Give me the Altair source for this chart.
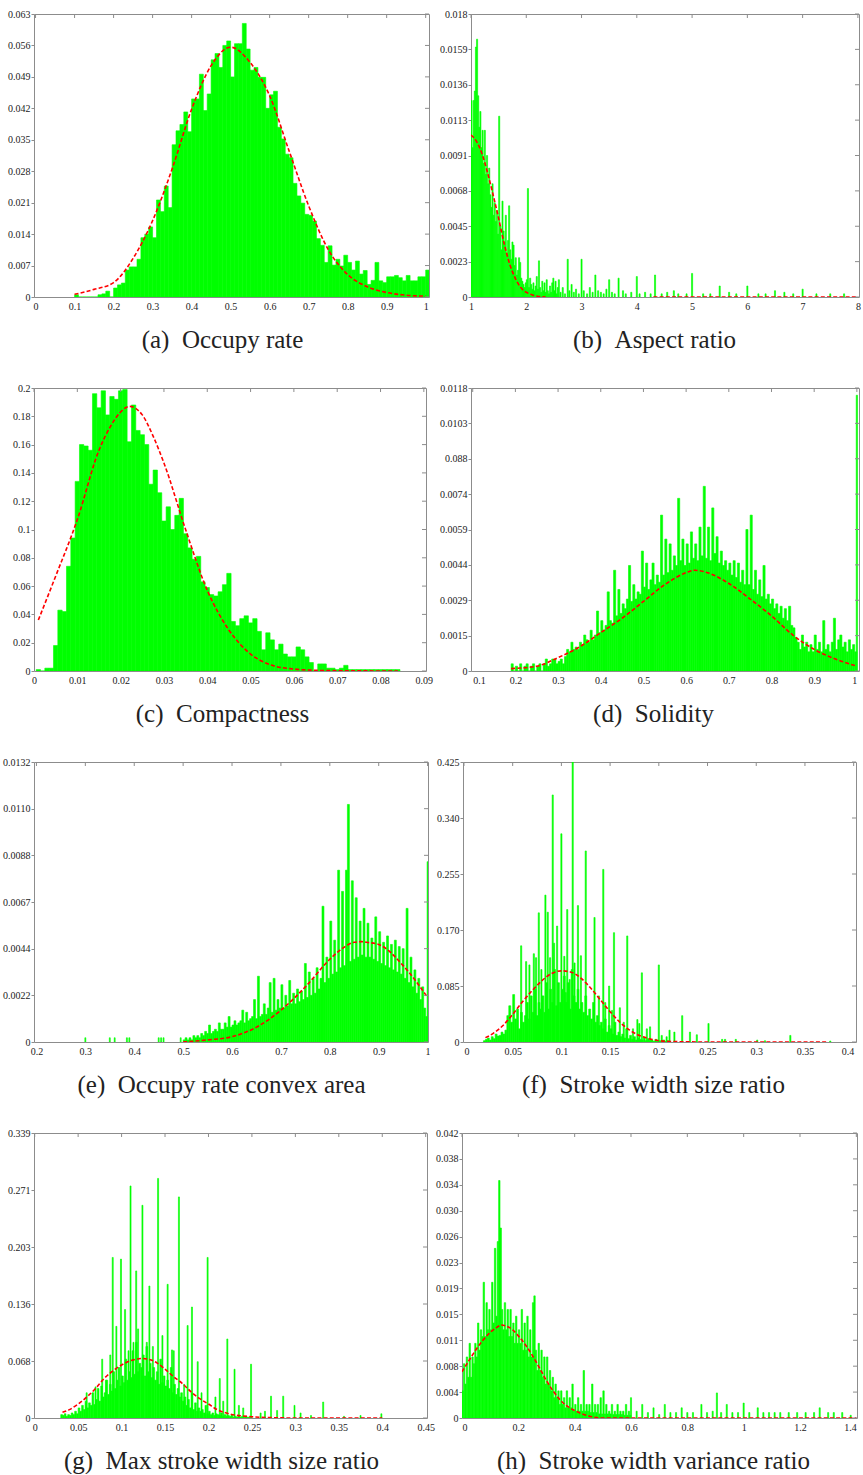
import json

import altair as alt
import pandas as pd

GREEN = "#00ff00"
RED = "#ff0000"
FRAME = "#8c8c8c"
INK = "#222222"
SERIF = "'Liberation Serif', 'Times New Roman', 'DejaVu Serif', serif"

# ---------------------------------------------------------------- (a) Occupy rate
a_bin_start, a_bin_width = 0.10, 0.01
a_heights = [
    0.0005, 0, 0, 0, 0, 0, 0.0005, 0.0007, 0.0013, 0,
    0.0020, 0.0027, 0.0031, 0.0060, 0.0067, 0.0067, 0.0084, 0.0132, 0.0140, 0.0156,
    0.0132, 0.0216, 0.0190, 0.0247, 0.0199, 0.0339, 0.0370, 0.0384, 0.0412, 0.0368,
    0.0441, 0.0441, 0.0496, 0.0415, 0.0452, 0.0528, 0.0542, 0.0511, 0.0560, 0.0570,
    0.0490, 0.0564, 0.0564, 0.0609, 0.0552, 0.0505, 0.0511, 0.0489, 0.0489, 0.0420,
    0.0450, 0.0458, 0.0378, 0.0352, 0.0318, 0.0310, 0.0253, 0.0225, 0.0209, 0.0184,
    0.0182, 0.0169, 0.0130, 0.0115, 0.0077, 0.0114, 0.0071, 0.0084, 0.0069, 0.0093,
    0.0077, 0.0060, 0.0080, 0.0051, 0.0059, 0.0028, 0.0037, 0.0077, 0.0036, 0.0032,
    0.0045, 0.0045, 0.0048, 0.0043, 0.0036, 0.0048, 0.0036, 0.0036, 0.0045, 0.0045,
    0.0060,
]
a_curve_x = [0.10, 0.15, 0.20, 0.25, 0.30, 0.35, 0.40, 0.45, 0.50, 0.55,
             0.60, 0.65, 0.70, 0.75, 0.80, 0.85, 0.90, 0.95, 1.00]
a_curve_y = [0.0006, 0.0017, 0.0032, 0.0086, 0.0170, 0.0285, 0.0418, 0.0515, 0.0556, 0.0522,
             0.0448, 0.0325, 0.0203, 0.0106, 0.0050, 0.0023, 0.0010, 0.0004, 0.0002]
a_x_ticks = [0, 0.1, 0.2, 0.3, 0.4, 0.5, 0.6, 0.7, 0.8, 0.9, 1]
a_y_labels = ["0", "0.007", "0.014", "0.021", "0.028", "0.035", "0.042", "0.049", "0.056", "0.063"]

# ---------------------------------------------------------------- (b) Aspect ratio
b_bin_start, b_bin_width = 1.0, 0.02
b_heights = [
    0.0125, 0.0095, 0.0125, 0.0131, 0.0159, 0.0164, 0.0128, 0.0108, 0.0118, 0.0095,
    0.0106, 0.0085, 0.0106, 0.0078, 0.0090, 0.0072, 0.0082, 0.0065, 0.0057, 0.0072,
    0.0052, 0.0060, 0.0048, 0.0055, 0.0040, 0.0115, 0.0045, 0.0030, 0.0061, 0.0042,
    0.0035, 0.0052, 0.0028, 0.0036, 0.0058, 0.0030, 0.0024, 0.0035, 0.0033, 0.0020,
    0.0025, 0.0014, 0.0017, 0.0025, 0.0022, 0.0012, 0.0010, 0.0008, 0.0006, 0.0009,
    0.0011, 0.0069, 0.0006, 0.0012, 0.0008, 0.0005, 0.0009, 0.0004, 0.0007, 0.0013,
    0.0005, 0.0023, 0.0006, 0.0003, 0.0010, 0.0004, 0.0009, 0.0003, 0.0011, 0.0004,
    0.0002, 0.0007, 0.0003, 0.0009, 0.0012, 0.0004, 0.0010, 0.0002, 0.0006, 0.0011,
]
b_spike_x = [2.62, 2.66, 2.70, 2.75, 2.78, 2.82, 2.86, 2.90, 2.95, 3.00, 3.04, 3.10, 3.15,
             3.20, 3.25, 3.30, 3.35, 3.40, 3.45, 3.50, 3.55, 3.60, 3.67, 3.75, 3.80, 3.90,
             4.00, 4.05, 4.15, 4.25, 4.33, 4.45, 4.55, 4.67, 4.75, 4.90, 5.00, 5.20, 5.33,
             5.50, 5.67, 5.80, 6.00, 6.20, 6.33, 6.50, 6.67, 6.83, 7.00, 7.25, 7.50, 7.75]
b_spike_h = [0.0003, 0.0006, 0.0002, 0.0024, 0.0004, 0.0008, 0.0003, 0.0005, 0.0002, 0.0024,
             0.0004, 0.0002, 0.0006, 0.0003, 0.0014, 0.0004, 0.0003, 0.0002, 0.0005, 0.0011,
             0.0003, 0.0002, 0.0012, 0.0004, 0.0002, 0.0003, 0.0013, 0.0002, 0.0003, 0.0002,
             0.0014, 0.0002, 0.0003, 0.0004, 0.0002, 0.0002, 0.0015, 0.0002, 0.0002, 0.0007,
             0.0003, 0.0002, 0.0007, 0.0002, 0.0002, 0.0004, 0.0003, 0.0002, 0.0005, 0.0002,
             0.0002, 0.0002]
b_curve_x = [1.0, 1.1, 1.2, 1.3, 1.4, 1.5, 1.6, 1.7, 1.8, 1.9, 2.0, 2.1, 2.2, 2.35, 4.3, 8.0]
b_curve_y = [0.0103, 0.0099, 0.0091, 0.0079, 0.0065, 0.0050, 0.0034, 0.0021, 0.0012, 0.0006,
             0.0003, 0.00015, 0.00005, 0.0, 0.0, 0.0]
b_curve_seg = [0] * 14 + [1, 1]
b_x_ticks = [1, 2, 3, 4, 5, 6, 7, 8]
b_y_labels = ["0", "0.0023", "0.0045", "0.0068", "0.0091", "0.0113", "0.0136", "0.0159", "0.018"]

# ---------------------------------------------------------------- (c) Compactness
c_bin_start, c_bin_width = 0.0005, 0.001
c_heights = [
    0.001, 0, 0.002, 0.002, 0.018, 0.043, 0.042, 0.074, 0.094, 0.134,
    0.160, 0.159, 0.156, 0.196, 0.186, 0.198, 0.181, 0.194, 0.192, 0.198,
    0.199, 0.162, 0.188, 0.170, 0.167, 0.160, 0.132, 0.142, 0.126, 0.106,
    0.116, 0.100, 0.110, 0.122, 0.097, 0.087, 0.079, 0.081, 0.063, 0.059,
    0.054, 0.053, 0.056, 0.061, 0.069, 0.035, 0.032, 0.037, 0.039, 0.034,
    0.037, 0.028, 0.015, 0.027, 0.022, 0.015, 0.019, 0.012, 0.010, 0.010,
    0.017, 0.015, 0.010, 0.006, 0, 0.005, 0.005, 0.002, 0.002, 0.001,
    0.002, 0.004, 0.001, 0.001, 0.001, 0.001, 0.001, 0.001, 0.001, 0.001,
    0.001, 0.001, 0.001, 0.001,
]
c_curve_x = [0.001, 0.005, 0.010, 0.015, 0.0175, 0.020, 0.022, 0.025, 0.0275, 0.030, 0.035,
             0.040, 0.045, 0.050, 0.055, 0.060, 0.065, 0.070, 0.084]
c_curve_y = [0.036, 0.067, 0.107, 0.156, 0.172, 0.183, 0.187, 0.181, 0.166, 0.147, 0.100,
             0.057, 0.029, 0.012, 0.004, 0.0014, 0.0005, 0.0002, 0.0]
c_x_ticks = [0, 0.01, 0.02, 0.03, 0.04, 0.05, 0.06, 0.07, 0.08, 0.09]
c_y_labels = ["0", "0.02", "0.04", "0.06", "0.08", "0.1", "0.12", "0.14", "0.16", "0.18", "0.2"]

# ---------------------------------------------------------------- (d) Solidity
d_bin_start, d_bin_width = 0.19, 0.005
d_heights = [
    0.0003, 0, 0.0002, 0, 0.0003, 0, 0.0002, 0.0003, 0, 0.0002,
    0.0003, 0, 0.0002, 0.0003, 0, 0.0003, 0.0005, 0.0002, 0.0003, 0.0005,
    0.0005, 0.0003, 0.0004, 0.0005, 0.0003, 0.0006, 0.0009, 0.0008, 0.0012, 0.0009,
    0.0010, 0.0009, 0.0012, 0.0011, 0.0015, 0.0013, 0.0012, 0.0017, 0.0013, 0.0015,
    0.0025, 0.0016, 0.0021, 0.0017, 0.0019, 0.0033, 0.0021, 0.0020, 0.0042, 0.0023,
    0.0034, 0.0024, 0.0028, 0.0026, 0.0030, 0.0044, 0.0029, 0.0036, 0.0030, 0.0033,
    0.0032, 0.0050, 0.0035, 0.0045, 0.0034, 0.0038, 0.0045, 0.0036, 0.0040, 0.0037,
    0.0065, 0.0040, 0.0055, 0.0041, 0.0053, 0.0042, 0.0048, 0.0044, 0.0072, 0.0046,
    0.0055, 0.0044, 0.0053, 0.0045, 0.0058, 0.0047, 0.0053, 0.0046, 0.0060, 0.0048,
    0.0077, 0.0047, 0.0060, 0.0046, 0.0068, 0.0049, 0.0056, 0.0045, 0.0050, 0.0044,
    0.0046, 0.0042, 0.0045, 0.0040, 0.0046, 0.0039, 0.0045, 0.0037, 0.0042, 0.0036,
    0.0059, 0.0036, 0.0065, 0.0034, 0.0042, 0.0032, 0.0038, 0.0031, 0.0044, 0.0030,
    0.0032, 0.0028, 0.0030, 0.0026, 0.0028, 0.0024, 0.0027, 0.0022, 0.0026, 0.0021,
    0.0027, 0.0019, 0.0018, 0.0014, 0.0012, 0.0009, 0.0015, 0.0010, 0.0012, 0.0008,
    0.0011, 0.0008, 0.0015, 0.0009, 0.0012, 0.0008, 0.0021, 0.0009, 0.0011, 0.0008,
    0.0012, 0.0022, 0.0009, 0.0013, 0.0015, 0.0010, 0.0012, 0.0008, 0.0013, 0.0009,
    0.0011, 0.0008,
]
d_spike_x = [1.0]
d_spike_h = [0.0115]
d_curve_x = [0.19, 0.25, 0.30, 0.35, 0.40, 0.45, 0.50, 0.55, 0.60, 0.62, 0.65, 0.70,
             0.75, 0.80, 0.85, 0.90, 0.95, 1.00]
d_curve_y = [0.0001, 0.0002, 0.00056, 0.0010, 0.0016, 0.0022, 0.0029, 0.0036, 0.0041, 0.0042,
             0.0041, 0.00365, 0.0030, 0.0023, 0.0015, 0.0009, 0.0005, 0.0002]
d_x_ticks = [0.1, 0.2, 0.3, 0.4, 0.5, 0.6, 0.7, 0.8, 0.9, 1]
d_y_labels = ["0", "0.0015", "0.0029", "0.0044", "0.0059", "0.0074", "0.088", "0.0103", "0.0118"]

# ---------------------------------------------------------------- (e) Occupy rate convex area
e_bin_start, e_bin_width = 0.50, 0.004
e_heights = [
    0.0001, 0.0002, 0.0001, 0.0002, 0.0001, 0.0003, 0.0002, 0.0003, 0.0002, 0.0004,
    0.0003, 0.0005, 0.0004, 0.0008, 0.0004, 0.0005, 0.0006, 0.0005, 0.0009, 0.0006,
    0.0006, 0.0009, 0.0007, 0.0012, 0.0007, 0.0008, 0.0010, 0.0008, 0.0009, 0.0010,
    0.0015, 0.0009, 0.0014, 0.0010, 0.0011, 0.0012, 0.0020, 0.0011, 0.0031, 0.0012,
    0.0013, 0.0018, 0.0013, 0.0016, 0.0028, 0.0014, 0.0030, 0.0015, 0.0020, 0.0016,
    0.0027, 0.0016, 0.0022, 0.0017, 0.0029, 0.0018, 0.0023, 0.0018, 0.0025, 0.0019,
    0.0024, 0.0020, 0.0037, 0.0021, 0.0033, 0.0022, 0.0030, 0.0023, 0.0035, 0.0025,
    0.0030, 0.0064, 0.0028, 0.0040, 0.0030, 0.0057, 0.0032, 0.0048, 0.0033, 0.0081,
    0.0035, 0.0071, 0.0036, 0.0081, 0.0112, 0.0038, 0.0076, 0.0039, 0.0068, 0.0040,
    0.0057, 0.0041, 0.0063, 0.0040, 0.0056, 0.0040, 0.0049, 0.0039, 0.0059, 0.0038,
    0.0052, 0.0037, 0.0047, 0.0036, 0.0050, 0.0035, 0.0046, 0.0034, 0.0048, 0.0033,
    0.0045, 0.0032, 0.0044, 0.0030, 0.0063, 0.0028, 0.0040, 0.0026, 0.0034, 0.0023,
    0.0030, 0.0020, 0.0026, 0.0016, 0.0012,
]
e_spike_x = [0.300, 0.350, 0.360, 0.385, 0.390, 0.450, 0.455, 0.460, 0.495, 1.0]
e_spike_h = [0.0002, 0.0002, 0.0002, 0.0002, 0.0002, 0.0002, 0.0002, 0.0002, 0.0002, 0.0085]
e_curve_x = [0.50, 0.55, 0.60, 0.65, 0.70, 0.75, 0.80, 0.825, 0.85, 0.865, 0.875, 0.90, 0.95, 1.00]
e_curve_y = [0.0, 0.0001, 0.00025, 0.0007, 0.0015, 0.0026, 0.0039, 0.0044, 0.0047, 0.00473,
             0.0047, 0.0046, 0.0036, 0.0021]
e_x_ticks = [0.2, 0.3, 0.4, 0.5, 0.6, 0.7, 0.8, 0.9, 1]
e_y_labels = ["0", "0.0022", "0.0044", "0.0067", "0.0088", "0.0110", "0.0132"]

# ---------------------------------------------------------------- (f) Stroke width size ratio
f_bin_start, f_bin_width = 0.020, 0.002
f_heights = [
    0.002, 0.004, 0.006, 0.003, 0.008, 0.005, 0.012, 0.009, 0.010, 0.015,
    0.012, 0.018, 0.040, 0.055, 0.030, 0.072, 0.035, 0.050, 0.020, 0.045,
    0.030, 0.040, 0.060, 0.035, 0.070, 0.045, 0.080, 0.040, 0.060, 0.050,
    0.070, 0.045, 0.090, 0.050, 0.080, 0.060, 0.110, 0.055, 0.090, 0.060,
    0.080, 0.100, 0.060, 0.090, 0.050, 0.110, 0.070, 0.060, 0.080, 0.050,
    0.060, 0.045, 0.070, 0.040, 0.050, 0.035, 0.060, 0.030, 0.040, 0.025,
    0.030, 0.020, 0.035, 0.015, 0.025, 0.020, 0.012, 0.030, 0.010, 0.015,
    0.008, 0.012, 0.006, 0.020, 0.005, 0.010, 0.004, 0.008, 0.003, 0.006,
    0.004, 0.003, 0.007, 0.002, 0.005, 0.002, 0.003, 0.001, 0.004, 0.001,
    0.002, 0.001, 0.003, 0.001, 0.002,
]
f_spike_x = [0.0587, 0.0638, 0.0672, 0.0717, 0.0740, 0.0768, 0.0795, 0.0836, 0.0860, 0.0884,
             0.0911, 0.0925, 0.0956, 0.1000, 0.1030, 0.1045, 0.1060, 0.1085, 0.1116, 0.1135,
             0.1170, 0.1200, 0.1250, 0.1340, 0.1385, 0.1430, 0.1450, 0.1490, 0.1520, 0.1540,
             0.1600, 0.1640, 0.1676, 0.1735, 0.1780, 0.1800, 0.1826, 0.1877, 0.1910, 0.2000,
             0.2030, 0.2080, 0.2110, 0.2160, 0.2240, 0.2320, 0.2390, 0.2510, 0.2650, 0.2680,
             0.2790, 0.3010, 0.3090, 0.3350, 0.3760]
f_spike_h = [0.146, 0.122, 0.117, 0.134, 0.128, 0.196, 0.110, 0.223, 0.197, 0.128,
             0.375, 0.150, 0.176, 0.316, 0.130, 0.075, 0.201, 0.095, 0.425, 0.120,
             0.207, 0.131, 0.290, 0.189, 0.070, 0.262, 0.060, 0.085, 0.048, 0.166,
             0.052, 0.030, 0.161, 0.020, 0.034, 0.028, 0.105, 0.020, 0.023, 0.117,
             0.010, 0.008, 0.018, 0.015, 0.040, 0.015, 0.011, 0.028, 0.004, 0.004,
             0.004, 0.003, 0.002, 0.010, 0.0015]
f_curve_x = [0.022, 0.03, 0.04, 0.05, 0.06, 0.07, 0.08, 0.09, 0.10, 0.11, 0.12, 0.13, 0.14,
             0.15, 0.16, 0.17, 0.18, 0.19, 0.20, 0.22, 0.25, 0.372]
f_curve_y = [0.0066, 0.013, 0.025, 0.042, 0.061, 0.078, 0.093, 0.104, 0.108, 0.106, 0.097,
             0.082, 0.064, 0.046, 0.030, 0.018, 0.010, 0.005, 0.002, 0.0005, 0.0, 0.0]
f_x_ticks = [0, 0.05, 0.1, 0.15, 0.2, 0.25, 0.3, 0.35, 0.4]
f_y_labels = ["0", "0.085", "0.170", "0.255", "0.340", "0.425"]

# ---------------------------------------------------------------- (g) Max stroke width size ratio
g_bin_start, g_bin_width = 0.030, 0.002
g_heights = [
    0.004, 0.003, 0.005, 0.002, 0.004, 0.003, 0.006, 0.004, 0.008, 0.005,
    0.012, 0.008, 0.015, 0.010, 0.020, 0.012, 0.018, 0.015, 0.030, 0.016,
    0.022, 0.035, 0.020, 0.038, 0.025, 0.030, 0.045, 0.028, 0.040, 0.032,
    0.055, 0.035, 0.045, 0.060, 0.038, 0.050, 0.042, 0.070, 0.045, 0.055,
    0.048, 0.080, 0.052, 0.090, 0.055, 0.065, 0.060, 0.075, 0.050, 0.085,
    0.055, 0.065, 0.048, 0.060, 0.045, 0.055, 0.040, 0.070, 0.042, 0.050,
    0.038, 0.045, 0.035, 0.060, 0.030, 0.040, 0.028, 0.035, 0.025, 0.030,
    0.020, 0.025, 0.015, 0.022, 0.012, 0.030, 0.010, 0.018, 0.008, 0.012,
    0.008, 0.010, 0.006, 0.015, 0.005, 0.008, 0.004, 0.006, 0.003, 0.005,
    0.004, 0.003, 0.006, 0.002, 0.004, 0.002, 0.003, 0.002, 0.004, 0.001,
    0.002, 0.001, 0.003, 0.001, 0.002, 0.001, 0.002, 0.001, 0.001, 0.001,
]
g_spike_x = [0.0598, 0.0700, 0.0777, 0.0820, 0.0870, 0.0898, 0.0940, 0.0993, 0.1040, 0.1080,
             0.1103, 0.1137, 0.1168, 0.1190, 0.1240, 0.1290, 0.1320, 0.1360, 0.1420, 0.1470,
             0.1530, 0.1580, 0.1600, 0.1660, 0.1720, 0.1760, 0.1810, 0.1876, 0.1920, 0.1990,
             0.2080, 0.2130, 0.2170, 0.2217, 0.2300, 0.2350, 0.2400, 0.2490, 0.2600, 0.2650,
             0.2720, 0.2790, 0.2860, 0.2990, 0.3060, 0.3180, 0.3320, 0.3560, 0.3750, 0.3990]
g_spike_h = [0.030, 0.037, 0.070, 0.045, 0.075, 0.191, 0.109, 0.189, 0.129, 0.080,
             0.276, 0.090, 0.175, 0.106, 0.253, 0.090, 0.157, 0.085, 0.285, 0.098,
             0.159, 0.081, 0.080, 0.263, 0.040, 0.110, 0.132, 0.067, 0.030, 0.191,
             0.025, 0.047, 0.020, 0.094, 0.058, 0.015, 0.012, 0.064, 0.006, 0.008,
             0.026, 0.009, 0.026, 0.015, 0.006, 0.003, 0.019, 0.002, 0.003, 0.005]
g_curve_x = [0.032, 0.04, 0.05, 0.06, 0.07, 0.08, 0.09, 0.10, 0.11, 0.12, 0.125, 0.13, 0.14,
             0.15, 0.16, 0.17, 0.18, 0.19, 0.20, 0.21, 0.225, 0.25, 0.27, 0.30, 0.40]
g_curve_y = [0.0067, 0.010, 0.0166, 0.025, 0.035, 0.047, 0.056, 0.063, 0.068, 0.0705, 0.0708,
             0.070, 0.066, 0.058, 0.049, 0.041, 0.031, 0.023, 0.0166, 0.010, 0.0047, 0.0015,
             0.0005, 0.0, 0.0]
g_x_ticks = [0, 0.05, 0.1, 0.15, 0.2, 0.25, 0.3, 0.35, 0.4, 0.45]
g_y_labels = ["0", "0.068", "0.136", "0.203", "0.271", "0.339"]

# ---------------------------------------------------------------- (h) Stroke width variance ratio
h_bin_start, h_bin_width = 0.0, 0.005
h_heights = [
    0.004, 0.008, 0.005, 0.009, 0.006, 0.011, 0.006, 0.009, 0.008, 0.011,
    0.009, 0.014, 0.010, 0.013, 0.012, 0.020, 0.012, 0.017, 0.013, 0.016,
    0.013, 0.020, 0.014, 0.025, 0.015, 0.026, 0.035, 0.028, 0.016, 0.013,
    0.017, 0.013, 0.016, 0.012, 0.016, 0.012, 0.014, 0.011, 0.015, 0.011,
    0.013, 0.011, 0.016, 0.010, 0.014, 0.010, 0.015, 0.009, 0.013, 0.009,
    0.017, 0.018, 0.010, 0.007, 0.011, 0.007, 0.010, 0.006, 0.009, 0.005,
    0.009, 0.005, 0.007, 0.004, 0.006, 0.003, 0.005, 0.003, 0.004, 0.002,
    0.004, 0.002, 0.003, 0.0015, 0.004, 0.0015, 0.003, 0.0015, 0.005, 0.001,
    0.002, 0.001, 0.003, 0.001, 0.002, 0.001, 0.007, 0.001, 0.002, 0.001,
    0.002, 0.0008, 0.005, 0.0008, 0.002, 0.0008, 0.002, 0.0006, 0.003, 0.0006,
    0.004, 0.0006, 0.002, 0.0006, 0.001, 0.0006, 0.002, 0.0005, 0.001, 0.0005,
    0.002, 0.0005, 0.001, 0.0005, 0.001, 0.0004, 0.002, 0.0004, 0.001, 0.0004,
]
h_spike_x = [0.60, 0.62, 0.64, 0.66, 0.68, 0.70, 0.72, 0.74, 0.76, 0.78, 0.80, 0.82, 0.85,
             0.87, 0.89, 0.905, 0.92, 0.94, 0.96, 0.98, 1.00, 1.02, 1.05, 1.07, 1.09, 1.11,
             1.13, 1.16, 1.19, 1.22, 1.25, 1.27, 1.30, 1.32, 1.35, 1.38]
h_spike_h = [0.003, 0.001, 0.002, 0.0008, 0.0015, 0.0005, 0.002, 0.0008, 0.0008, 0.0015,
             0.0008, 0.0008, 0.002, 0.0008, 0.0010, 0.0037, 0.0008, 0.002, 0.0008, 0.0008,
             0.0022, 0.0008, 0.0015, 0.0008, 0.0008, 0.0008, 0.0008, 0.0008, 0.0008, 0.0008,
             0.0008, 0.0015, 0.0008, 0.0008, 0.0008, 0.0004]
h_curve_x = [0.0, 0.025, 0.05, 0.075, 0.1, 0.125, 0.14, 0.16, 0.18, 0.2, 0.225, 0.25, 0.275,
             0.3, 0.325, 0.35, 0.375, 0.4, 0.45, 0.5, 1.4]
h_curve_y = [0.0068, 0.0085, 0.0101, 0.0115, 0.0126, 0.0134, 0.0137, 0.0135, 0.0130, 0.0121,
             0.0108, 0.0092, 0.0074, 0.0055, 0.0039, 0.0026, 0.0017, 0.0011, 0.0003, 0.0, 0.0]
h_x_ticks = [0, 0.2, 0.4, 0.6, 0.8, 1, 1.2, 1.4]
h_y_labels = ["0", "0.004", "0.008", "0.011", "0.015", "0.019", "0.023", "0.026",
              "0.030", "0.034", "0.038", "0.042"]


def binned(start, step, heights):
    """Histogram bins laid end to end from `start`."""
    lefts = [start + i * step for i in range(len(heights))]
    return pd.DataFrame({"x0": lefts, "x1": [v + step for v in lefts], "h": heights})


def spikes(xs, hs, w):
    """Isolated thin bars centred on the given values."""
    return pd.DataFrame({"x0": [x - w / 2 for x in xs], "x1": [x + w / 2 for x in xs], "h": hs})


def curve(xs, ys, seg=None):
    return pd.DataFrame({"x": xs, "y": ys, "seg": seg if seg is not None else [0] * len(xs)})


def panel(bars, fit, x_domain, x_ticks, y_top, y_labels, caption, width, height,
          caption_x, flush=False):
    n = len(y_labels) - 1
    y_step = y_top / n
    y_ticks = [y_step * i for i in range(n + 1)]
    label_expr = f"{json.dumps(y_labels)}[round(datum.value / {y_step!r})]"

    xs = alt.Scale(domain=x_domain, nice=False, zero=False)
    ys = alt.Scale(domain=[0, y_top], nice=False)

    x_axis = alt.Axis(
        values=x_ticks, format="~g", ticks=False, tickSize=0, domain=False, grid=False,
        labelFont=SERIF, labelFontSize=10, labelColor=INK, labelPadding=4,
        labelFlush=6 if flush else False, labelOverlap=False,
        title=caption, titleFont=SERIF, titleFontSize=25, titleFontWeight="normal",
        titleColor=INK, titleX=caption_x, titleY=50, titleAlign="center",
        titleBaseline="alphabetic",
    )
    y_axis = alt.Axis(
        values=y_ticks, labelExpr=label_expr, tickSize=3, tickColor=FRAME, tickWidth=1,
        domain=False, grid=False, labelFont=SERIF, labelFontSize=10, labelColor=INK,
        labelPadding=1, labelOverlap=False, title=None,
    )

    # a hairline outline in the fill colour closes the seams between adjacent bins
    hist = alt.Chart(bars).mark_rect(
        color=GREEN, stroke=GREEN, strokeWidth=0.6, clip=True
    ).encode(
        x=alt.X("x0:Q", scale=xs, axis=x_axis),
        x2="x1:Q",
        y=alt.Y("h:Q", scale=ys, axis=y_axis),
        y2=alt.datum(0),
    )
    fit_line = alt.Chart(fit).mark_line(
        color=RED, strokeWidth=1.6, strokeDash=[4, 2.2], interpolate="monotone", clip=True
    ).encode(
        x=alt.X("x:Q", scale=xs, axis=x_axis),
        y=alt.Y("y:Q", scale=ys, axis=y_axis),
        detail="seg:N",
    )
    # inward ticks along the top and right edges of the frame
    top_ticks = alt.Chart(pd.DataFrame({"t": x_ticks})).mark_rule(
        color=FRAME, strokeWidth=1
    ).encode(x=alt.X("t:Q", scale=xs, axis=x_axis), y=alt.value(0), y2=alt.value(4))
    right_ticks = alt.Chart(pd.DataFrame({"t": y_ticks})).mark_rule(
        color=FRAME, strokeWidth=1
    ).encode(y=alt.Y("t:Q", scale=ys, axis=y_axis), x=alt.value(width - 4), x2=alt.value(width))

    return alt.layer(hist, fit_line, top_ticks, right_ticks).properties(width=width, height=height)


pa = panel(binned(a_bin_start, a_bin_width, a_heights), curve(a_curve_x, a_curve_y),
           [-0.004, 1.0085], a_x_ticks, 0.063, a_y_labels, "(a)\u2002Occupy rate",
           395, 283, 188)
pb = panel(pd.concat([binned(b_bin_start, b_bin_width, b_heights),
                      spikes(b_spike_x, b_spike_h, 0.02)]),
           curve(b_curve_x, b_curve_y, b_curve_seg),
           [1.0, 8.02], b_x_ticks, 0.018, b_y_labels, "(b)\u2002Aspect ratio",
           388, 283, 183)
pc = panel(binned(c_bin_start, c_bin_width, c_heights), curve(c_curve_x, c_curve_y),
           [0.0, 0.0905], c_x_ticks, 0.2, c_y_labels, "(c)\u2002Compactness",
           392, 283, 188)
pd_ = panel(pd.concat([binned(d_bin_start, d_bin_width, d_heights),
                       spikes(d_spike_x, d_spike_h, 0.003)]),
            curve(d_curve_x, d_curve_y),
            [0.096, 1.005], d_x_ticks, 0.0118, d_y_labels, "(d)\u2002Solidity",
            388, 283, 182, flush=True)
pe = panel(pd.concat([binned(e_bin_start, e_bin_width, e_heights),
                      spikes(e_spike_x, e_spike_h, 0.002)]),
           curve(e_curve_x, e_curve_y),
           [0.195, 1.0008], e_x_ticks, 0.0132, e_y_labels, "(e)\u2002Occupy rate convex area",
           394, 280, 187)
pf = panel(pd.concat([binned(f_bin_start, f_bin_width, f_heights),
                      spikes(f_spike_x, f_spike_h, 0.0012)]),
           curve(f_curve_x, f_curve_y),
           [-0.001, 0.4024], f_x_ticks, 0.425, f_y_labels, "(f)\u2002Stroke width size ratio",
           393, 280, 190, flush=True)
pg = panel(pd.concat([binned(g_bin_start, g_bin_width, g_heights),
                      spikes(g_spike_x, g_spike_h, 0.0012)]),
           curve(g_curve_x, g_curve_y),
           [-0.0008, 0.4515], g_x_ticks, 0.339, g_y_labels,
           "(g)\u2002Max stroke width size ratio", 393, 285, 187)
ph = panel(pd.concat([binned(h_bin_start, h_bin_width, h_heights),
                      spikes(h_spike_x, h_spike_h, 0.004)]),
           curve(h_curve_x, h_curve_y),
           [0.0, 1.4024], h_x_ticks, 0.042, h_y_labels,
           "(h)\u2002Stroke width variance ratio", 395, 285, 191, flush=True)

chart = alt.vconcat(
    alt.hconcat(pa, pb, spacing=42, bounds="flush"),
    alt.hconcat(pc, pd_, spacing=45, bounds="flush"),
    alt.hconcat(pe, pf, spacing=35, bounds="flush"),
    alt.hconcat(pg, ph, spacing=35, bounds="flush"),
    spacing=29,
).properties(
    padding={"left": 2, "top": 8, "right": 0, "bottom": 0}
).configure_view(stroke=FRAME, strokeWidth=1)

chart.save("out.html", embed_options={"renderer": "svg", "actions": False})
